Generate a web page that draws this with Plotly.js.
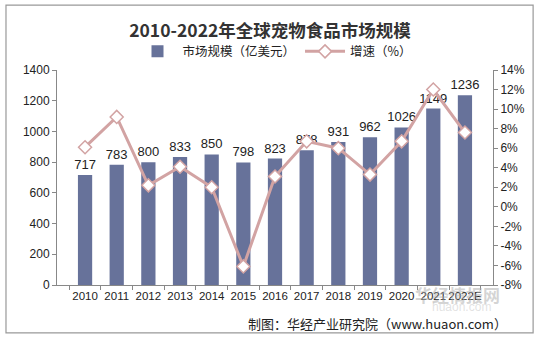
<!DOCTYPE html>
<html><head><meta charset="utf-8">
<script src="https://cdn.plot.ly/plotly-3.0.1.min.js"></script>
<style>html,body{margin:0;padding:0;background:#fff;}#c{width:540px;height:341px;}</style>
</head><body><div id="c"></div>
<script>
const years = ["2010","2011","2012","2013","2014","2015","2016","2017","2018","2019","2020","2021","2022E"];
const marketSize = [717,783,800,833,850,798,823,878,931,962,1026,1149,1236];
const growth = [6.1,9.2,2.2,4.1,2.0,-6.1,3.1,6.7,6.0,3.3,6.7,12.0,7.6];
const leftTicks = [0,200,400,600,800,1000,1200,1400];
const rightTicks = [-8,-6,-4,-2,0,2,4,6,8,10,12,14];

const font = {family:"Liberation Sans, Arial, sans-serif", size:12, color:"#222"};
const traces = [
  {type:"bar", x:years, y:marketSize, name:"市场规模（亿美元）",
   marker:{color:"#67729A"}, text:marketSize.map(String), textposition:"outside", constraintext:"none",
   textfont:{family:font.family,size:13,color:"#222"}, cliponaxis:false, hoverinfo:"skip"},
  {type:"scatter", mode:"lines+markers", x:years, y:growth, yaxis:"y2", name:"增速（%）",
   line:{color:"#D2A3A3", width:3},
   marker:{symbol:"diamond", size:10, color:"#fff", line:{color:"#D2A3A3", width:1.5}},
   cliponaxis:false, hoverinfo:"skip"}
];
const layout = {
  width:540, height:341, margin:{l:57,r:47,t:70,b:56},
  paper_bgcolor:"#fff", plot_bgcolor:"#fff", font:font, showlegend:true,
  title:{text:"<b>2010-2022年全球宠物食品市场规模</b>", x:0.5, xanchor:"center", y:0.91, yanchor:"middle",
         font:{family:"Noto Sans CJK SC, serif", size:17.5, color:"#333"}},
  legend:{orientation:"h", x:0.5, xanchor:"center", y:1.085, yanchor:"middle",
          font:{family:"Noto Sans CJK SC, sans-serif", size:12.5, color:"#222"}, itemwidth:40, traceorder:"normal"},
  bargap:0.55,
  xaxis:{type:"category", showline:true, linecolor:"#888", ticks:"outside", tickson:"boundaries", tickangle:0,
         ticklen:4, tickcolor:"#888", showgrid:false, tickfont:{family:font.family,size:11.5,color:"#222"}},
  yaxis:{range:[0,1400], tickvals:leftTicks, showline:true, linecolor:"#888", ticks:"outside", ticklen:4,
         tickcolor:"#888", showgrid:false, zeroline:false, tickfont:{family:font.family,size:12,color:"#222"}},
  yaxis2:{overlaying:"y", side:"right", range:[-8,14], tickvals:rightTicks, ticktext:rightTicks.map(v=>v+"%"),
          showline:true, linecolor:"#888", ticks:"outside", ticklen:4, tickcolor:"#888", showgrid:false, zeroline:false,
          tickfont:{family:font.family,size:12,color:"#222"}},
  shapes:[{type:"rect", xref:"paper", yref:"paper", x0:-0.117, x1:1.092, y0:-0.223, y1:1.302,
           line:{color:"#999", width:1.2}, fillcolor:"rgba(0,0,0,0)"}],
  annotations:[
    {text:"制图：华经产业研究院（www.huaon.com）", xref:"paper", yref:"paper", x:1.036, y:-0.177,
     xanchor:"right", yanchor:"middle", showarrow:false,
     font:{family:"Noto Sans CJK SC, sans-serif", size:13, color:"#222"}},
    {text:"<b>华经情报网</b>", xref:"paper", yref:"paper", x:1.02, y:-0.045, xanchor:"right", yanchor:"middle",
     showarrow:false, font:{family:"Noto Sans CJK SC, sans-serif", size:17, color:"rgba(170,170,170,0.5)"}},
    {text:"huaon.com", xref:"paper", yref:"paper", x:1.0, y:-0.1, xanchor:"right", yanchor:"middle",
     showarrow:false, font:{family:font.family, size:12, color:"rgba(190,190,190,0.45)"}}
  ]
};
Plotly.newPlot("c", traces, layout, {displayModeBar:false, staticPlot:true});
</script></body></html>
